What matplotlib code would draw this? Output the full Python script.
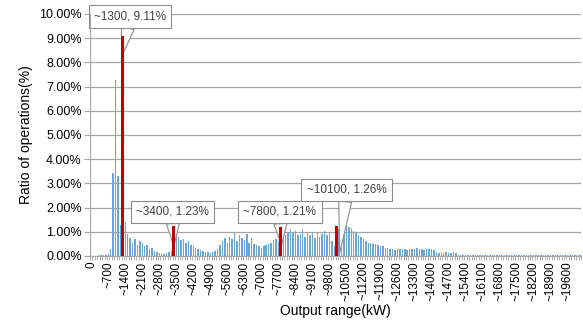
import numpy as np
import matplotlib.pyplot as plt

plt.rcParams['font.family'] = ['Liberation Sans', 'DejaVu Sans']

# share of operating time per 100 kW output bin (%), bin i -> "~{100*i}"
ratio = [
    0.02, 0.02, 0.02, 0.03, 0.03, 0.03, 0.05, 0.08, 0.28, 3.42,
    7.27, 3.30, 1.30, 9.11, 1.40, 0.90, 0.75, 0.55, 0.70, 0.45,
    0.60, 0.55, 0.40, 0.45, 0.30, 0.35, 0.22, 0.18, 0.12, 0.10,
    0.10, 0.12, 0.15, 0.20, 1.23, 0.85, 0.80, 0.65, 0.70, 0.55,
    0.60, 0.45, 0.40, 0.35, 0.30, 0.25, 0.22, 0.18, 0.15, 0.12,
    0.15, 0.20, 0.30, 0.45, 0.60, 0.75, 0.55, 0.80, 0.70, 0.95,
    0.60, 0.85, 0.75, 0.65, 0.90, 0.55, 0.75, 0.50, 0.45, 0.40,
    0.35, 0.40, 0.45, 0.50, 0.55, 0.65, 0.70, 0.60, 1.21, 0.70,
    0.85, 1.00, 1.10, 0.95, 1.05, 0.85, 0.90, 1.10, 0.80, 1.00,
    0.85, 0.95, 0.75, 1.00, 0.80, 0.90, 1.05, 0.85, 0.95, 0.60,
    0.40, 1.26, 1.10, 1.15, 1.20, 1.25, 1.20, 1.15, 1.05, 0.95,
    0.85, 0.80, 0.70, 0.60, 0.55, 0.55, 0.50, 0.50, 0.45, 0.40,
    0.40, 0.35, 0.35, 0.28, 0.30, 0.26, 0.29, 0.27, 0.30, 0.28,
    0.26, 0.30, 0.29, 0.27, 0.31, 0.28, 0.30, 0.26, 0.29, 0.28,
    0.27, 0.25, 0.15, 0.14, 0.16, 0.13, 0.15, 0.14, 0.12, 0.15,
    0.13, 0.04, 0.05, 0.04, 0.03, 0.05, 0.04, 0.03, 0.04, 0.05,
    0.03, 0.04, 0.04, 0.03, 0.05, 0.04, 0.03, 0.04, 0.04, 0.05,
    0.03, 0.04, 0.03, 0.04, 0.05, 0.04, 0.03, 0.04, 0.04, 0.03,
    0.05, 0.04, 0.03, 0.04, 0.04, 0.03, 0.05, 0.04, 0.03, 0.04,
    0.04, 0.03, 0.04, 0.05, 0.03, 0.04, 0.04, 0.03, 0.04, 0.03,
    0.04, 0.03,
]
# highlighted bins (index into ratio)
peaks = [13, 34, 78, 101]
# callout box centre (bin, %) and pointer tip (bin, %)
box_pos = [(16.0, 9.9), (33.4, 1.82), (77.6, 1.82), (105.0, 2.73)]
tip_pos = [(12.8, 8.3), (34.0, 0.4), (78.3, 0.45), (102.2, 0.12)]

n = len(ratio)
x = np.arange(n)
vals = np.array(ratio)

fig = plt.figure(figsize=(5.83, 3.36), dpi=100)
ax = fig.add_axes([90 / 583, 1 - 256 / 336, 491 / 583, 242 / 336])

blue = np.ones(n, bool)
blue[peaks] = False
ax.bar(x[blue], vals[blue], width=0.6, color='#6aa6d8', zorder=2)
ax.bar(x[peaks], vals[peaks], width=1.3, color='#c00000', zorder=3)

ax.set_xlim(-0.5, n - 0.5)
ax.set_ylim(0, 10)
ax.set_yticks(np.arange(0, 11, 1))
ax.set_yticklabels([f'{v:.2f}%' for v in range(11)], fontsize=9)
ax.yaxis.grid(True, color='#a6a6a6', lw=0.9, zorder=0)
ax.tick_params(axis='y', length=4, color='#a6a6a6', pad=2)

ticks = np.arange(0, n, 7)
ax.set_xticks(ticks)
ax.set_xticklabels(['0'] + [f'~{100 * t}' for t in ticks[1:]],
                   rotation=90, fontsize=8.5)
ax.set_xticks(np.arange(-0.5, n, 1), minor=True)
ax.tick_params(axis='x', which='major', length=0, pad=4)
ax.tick_params(axis='x', which='minor', length=3, color='#a6a6a6', width=0.6)

for s in ['top', 'right']:
    ax.spines[s].set_visible(False)
for s in ['left', 'bottom']:
    ax.spines[s].set_color('#a6a6a6')

ax.set_ylabel('Ratio of operations(%)', fontsize=10, labelpad=4)
ax.set_xlabel('Output range(kW)', fontsize=10, labelpad=2)

# callouts sit between the blue and red bars so the red bar stays on top
for i, (bx, by), (tx, ty) in zip(peaks, box_pos, tip_pos):
    ax.annotate(f'~{100 * i}, {ratio[i]:.2f}%', xy=(tx, ty), xytext=(bx, by),
                ha='center', va='center', fontsize=8.5, color='#404040',
                bbox=dict(boxstyle='square,pad=0.45', fc='white', ec='#8c8c8c', lw=0.8),
                arrowprops=dict(arrowstyle='wedge,tail_width=1.1', fc='white',
                                ec='#8c8c8c', lw=0.8, shrinkA=0, shrinkB=0),
                zorder=2.5, annotation_clip=False)

fig.savefig('out.png', dpi=100)
